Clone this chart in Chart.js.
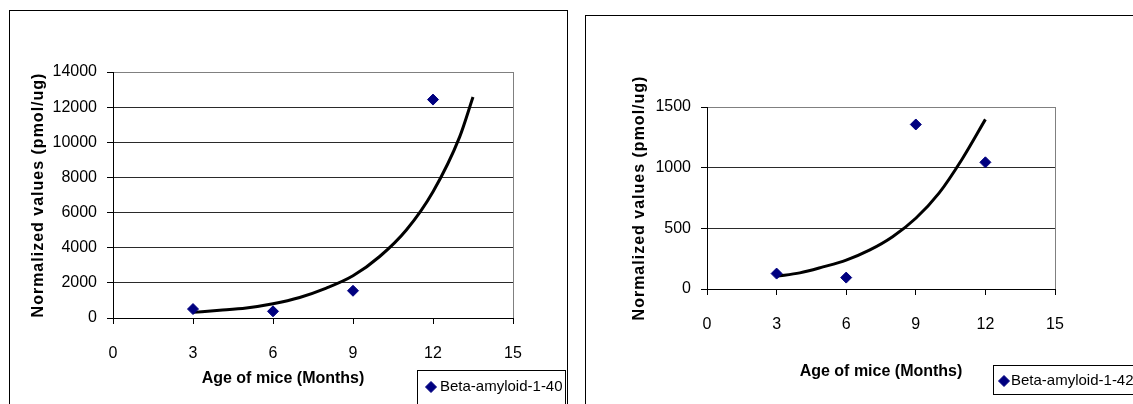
<!DOCTYPE html>
<html>
<head>
<meta charset="utf-8">
<script src="https://cdn.jsdelivr.net/npm/chart.js@4.4.0/dist/chart.umd.min.js"></script>
<style>
html, body { margin: 0; padding: 0; background: #fff; width: 1133px; height: 404px; overflow: hidden; position: relative; }
.box { position: absolute; border: 1px solid #000; box-sizing: border-box; }
#box1 { left: 9px; top: 10px; width: 559px; height: 430px; }
#box2 { left: 585px; top: 15px; width: 600px; height: 430px; }
canvas { position: absolute; top: 0; }
#c1 { left: 0; }
#c2 { left: 575px; }
</style>
</head>
<body>
<div class="box" id="box1"></div>
<div class="box" id="box2"></div>
<canvas id="c1" width="575" height="404"></canvas>
<canvas id="c2" width="558" height="404"></canvas>
<script>
const ages = [3, 6, 9, 12];
const ab40 = [510, 380, 1550, 12430];
const ab42 = [127, 94, 1356, 1044];

// exponential trend lines
const trendAges40 = [3, 4, 5, 6, 7, 8, 9, 10, 11, 12, 13, 13.5];
const trend40 = [320, 435, 570, 810, 1170, 1700, 2400, 3500, 5010, 7190, 10310, 12580];
const trendAges42 = [3, 4, 5, 6, 7, 8, 9, 10, 11, 12];
const trend42 = [105, 133, 182, 238, 320, 431, 583, 790, 1072, 1398];

const xMin = 0, xMax = 15, xStep = 3;
const xTitle = 'Age of mice (Months)';
const yTitle = 'Normalized values (pmol/ug)';

const narrow = "'Liberation Sans Narrow', 'Arial Narrow', 'Liberation Sans', Arial, sans-serif";
const sans = "'Liberation Sans', Arial, sans-serif";

const toXY = (xs, ys) => xs.map((x, i) => ({ x: x, y: ys[i] }));

// legend drawn as a framed box like the original
const boxLegend = {
    id: 'boxLegend',
    afterDraw(chart, args, o) {
        const ctx = chart.ctx;
        const ds = chart.data.datasets[0];
        ctx.save();
        ctx.strokeStyle = '#000';
        ctx.lineWidth = 1;
        ctx.strokeRect(o.x + 0.5, o.y + 0.5, o.w, o.h);
        const cy = o.y + o.cy;
        ctx.fillStyle = ds.backgroundColor;
        ctx.strokeStyle = ds.borderColor;
        Chart.helpers.drawPoint(ctx, { pointStyle: 'rectRot', radius: 5.5, rotation: 0, borderWidth: 1 }, o.x + o.dx, cy);
        ctx.fillStyle = '#000';
        ctx.font = o.font;
        ctx.textBaseline = 'middle';
        ctx.textAlign = 'left';
        ctx.fillText(ds.label, o.x + o.tx, cy);
        ctx.restore();
    }
};

// letter spacing / horizontal shift for the axis titles
const titleTweak = {
    id: 'titleTweak',
    beforeDraw(chart, args, o) {
        Object.values(chart.scales).forEach(s => {
            if (s._tweaked) return;
            const orig = s.drawTitle.bind(s);
            const sp = (o.spacing && o.spacing[s.id]) || 0;
            const sh = (o.shift && o.shift[s.id]) || 0;
            s.drawTitle = function () {
                const ctx = this.ctx;
                ctx.save();
                ctx.letterSpacing = sp + 'px';
                ctx.translate(sh, 0);
                orig();
                ctx.restore();
            };
            s._tweaked = true;
        });
    }
};

function makeChart(id, s) {
    return new Chart(document.getElementById(id), {
        type: 'scatter',
        data: {
            datasets: [{
                label: s.label,
                data: toXY(ages, s.values),
                pointStyle: 'rectRot',
                pointRadius: 5.5,
                pointHoverRadius: 5.5,
                backgroundColor: '#000080',
                borderColor: '#000080',
                borderWidth: 1
            }, {
                label: 'trend',
                data: toXY(s.tAges, s.tVals),
                showLine: true,
                pointRadius: 0,
                borderColor: '#000',
                borderWidth: 3,
                cubicInterpolationMode: 'monotone'
            }]
        },
        options: {
            responsive: false,
            animation: false,
            devicePixelRatio: 1,
            layout: { padding: s.pad },
            plugins: {
                legend: { display: false },
                tooltip: { enabled: false },
                boxLegend: s.legend,
                titleTweak: { spacing: { y: 1 }, shift: { x: s.xShift } }
            },
            scales: {
                x: {
                    type: 'linear', min: xMin, max: xMax,
                    ticks: { stepSize: xStep, color: '#000', padding: s.xTickPad, font: { family: narrow, size: 16 }, callback: v => String(v) },
                    grid: { color: c => c.tick.value === xMax ? '#808080' : 'rgba(0,0,0,0)', tickColor: '#000', tickLength: 6 },
                    border: { color: '#000' },
                    title: { display: true, text: xTitle, color: '#000', font: { family: sans, size: 16, weight: 'bold' }, padding: { top: 0, bottom: s.xTitlePad } },
                    afterFit: sc => { sc.height = s.xH; }
                },
                y: {
                    min: 0, max: s.yMax,
                    ticks: { stepSize: s.yStep, color: '#000', padding: 10, font: { family: narrow, size: 16 }, callback: v => String(v) },
                    grid: { color: c => c.tick.value === s.yMax ? '#808080' : '#2a2a2a', tickColor: '#000', tickLength: 6 },
                    border: { color: '#000' },
                    title: { display: true, text: yTitle, color: '#000', font: { family: sans, size: 16, weight: 'bold' }, padding: { top: s.yTitlePad, bottom: 0 } },
                    afterFit: sc => { sc.width = s.yW; }
                }
            }
        },
        plugins: [boxLegend, titleTweak]
    });
}

makeChart('c1', {
    label: 'Beta-amyloid-1-40', values: ab40, tAges: trendAges40, tVals: trend40,
    yMax: 14000, yStep: 2000,
    pad: { left: 20, right: 62, top: 72, bottom: 0 },
    yW: 93, xH: 86, xTickPad: 20, xTitlePad: 16, yTitlePad: 9, xShift: -30,
    legend: { x: 417, y: 370, w: 148, h: 40, cy: 17, dx: 14, tx: 23, font: '15px ' + narrow }
});

makeChart('c2', {
    label: 'Beta-amyloid-1-42', values: ab42, tAges: trendAges42, tVals: trend42,
    yMax: 1500, yStep: 500,
    pad: { left: 40, right: 78, top: 107, bottom: 0 },
    yW: 92, xH: 115, xTickPad: 20, xTitlePad: 23, yTitlePad: 15, xShift: 0,
    legend: { x: 418, y: 365, w: 200, h: 29, cy: 16, dx: 11, tx: 18, font: '15px ' + narrow }
});
</script>
</body>
</html>
